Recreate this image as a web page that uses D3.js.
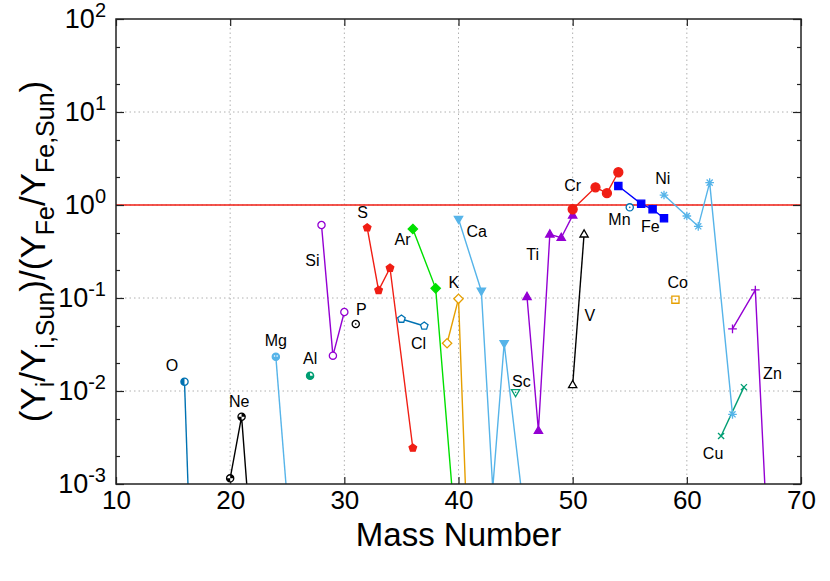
<!DOCTYPE html>
<html>
<head>
<meta charset="utf-8">
<script src="https://cdn.jsdelivr.net/npm/d3@7"></script>
<style>
  body { margin: 0; background: #fff; }
  svg { display: block; font-family: "Liberation Sans", Arial, Helvetica, sans-serif; }
</style>
</head>
<body>
<div id="chart"></div>
<script>
// isotope ratios per element: [mass number, (Yi/Yi,sun)/(YFe/YFe,sun)]
var O  = [[16, 0.0126], [17, 3e-6]];
var Ne = [[20, 0.00115], [21, 0.0053], [22, 1.3e-4]];
var Mg = [[24, 0.0234], [25, 6.7e-4]];
var Al = [[27, 0.0146]];
var Si = [[28, 0.61], [29, 0.024], [30, 0.0707]];
var P  = [[31, 0.0525]];
var S  = [[32, 0.57], [33, 0.121], [34, 0.21], [36, 0.00244]];
var Cl = [[35, 0.0594], [37, 0.050]];
var Ar = [[36, 0.552], [38, 0.127], [40, 1.25e-4]];
var K  = [[39, 0.0326], [40, 0.098], [41, 4.7e-5]];
var Ca = [[40, 0.706], [42, 0.119], [43, 9e-4], [44, 0.0326], [46, 2.6e-4]];
var Sc = [[45, 0.0097]];
var Ti = [[46, 0.103], [47, 0.00374], [48, 0.484], [49, 0.445], [50, 0.774]];
var V  = [[50, 0.0116], [51, 0.484]];
var Cr = [[50, 0.90], [52, 1.55], [53, 1.34], [54, 2.25]];
var Mn = [[55, 0.944]];
var Fe = [[54, 1.6], [56, 1.03], [57, 0.90], [58, 0.72]];
var Co = [[59, 0.096]];
var Ni = [[58, 1.28], [60, 0.762], [61, 0.59], [62, 1.74], [64, 0.00561]];
var Cu = [[63, 0.00328], [65, 0.011]];
var Zn = [[64, 0.0465], [66, 0.122], [67, 3.7e-4]];

var elements = ["O", "Ne", "Mg", "Al", "Si", "P", "S", "Cl", "Ar", "K", "Ca",
                "Sc", "Ti", "V", "Cr", "Mn", "Fe", "Co", "Ni", "Cu", "Zn"];
var seriesData = {O: O, Ne: Ne, Mg: Mg, Al: Al, Si: Si, P: P, S: S, Cl: Cl, Ar: Ar, K: K, Ca: Ca,
                  Sc: Sc, Ti: Ti, V: V, Cr: Cr, Mn: Mn, Fe: Fe, Co: Co, Ni: Ni, Cu: Cu, Zn: Zn};

var xTicks = [10, 20, 30, 40, 50, 60, 70];
var yTicks = [1e-3, 1e-2, 1e-1, 1, 10, 100];
var yExps = [-3, -2, -1, 0, 1, 2];
var yMinor = [2e-3, 5e-3, 2e-2, 5e-2, 0.2, 0.5, 2, 5, 20, 50];
var refLevel = 1;

// label anchors in data units
var labelAt = {
  O: [14.9, 0.0186], Ne: [20.8, 0.00762], Mg: [24.0, 0.0353], Al: [27.0, 0.0221],
  Si: [27.2, 0.25], P: [31.5, 0.0743], S: [31.6, 0.84], Cl: [36.5, 0.0328],
  Ar: [35.1, 0.43], K: [39.6, 0.145], Ca: [41.6, 0.513], Sc: [45.5, 0.0128],
  Ti: [46.5, 0.29], V: [51.5, 0.0656], Cr: [50.0, 1.64], Mn: [54.1, 0.706],
  Fe: [56.8, 0.594], Ni: [57.9, 1.905], Co: [59.2, 0.145], Cu: [62.3, 0.00215],
  Zn: [67.5, 0.0156]
};

var purple = "#9400d3", green = "#009e73", sky = "#56b4e9", orange = "#e69f00",
    blue = "#0072b2", red = "#f01e14";
var styles = {
  O:  {color: blue,   shape: "circle",   fill: "half"},
  Ne: {color: "#000", shape: "circle",   fill: "quad"},
  Mg: {color: sky,    shape: "circle",   fill: "dots"},
  Al: {color: green,  shape: "circle",   fill: "threeq"},
  Si: {color: purple, shape: "circle",   fill: "open"},
  P:  {color: "#000", shape: "circle",   fill: "dot"},
  S:  {color: red,    shape: "pentagon", fill: "solid"},
  Cl: {color: blue,   shape: "pentagon", fill: "open"},
  Ar: {color: "#00e000", shape: "diamond", fill: "solid"},
  K:  {color: orange, shape: "diamond",  fill: "open"},
  Ca: {color: sky,    shape: "triDown",  fill: "solid"},
  Sc: {color: green,  shape: "triDown",  fill: "dot"},
  Ti: {color: purple, shape: "triUp",    fill: "solid"},
  V:  {color: "#000", shape: "triUp",    fill: "open"},
  Cr: {color: red,    shape: "circle",   fill: "solidBig"},
  Mn: {color: blue,   shape: "circle",   fill: "dot"},
  Fe: {color: "#0000ff", shape: "square", fill: "solid"},
  Co: {color: orange, shape: "square",   fill: "dot"},
  Ni: {color: sky,    shape: "asterisk", fill: "open"},
  Cu: {color: green,  shape: "cross",    fill: "open"},
  Zn: {color: purple, shape: "plus",     fill: "open"}
};

var W = 830, H = 581;
var margin = {top: 19, right: 29, bottom: 97, left: 116};
var width = W - margin.left - margin.right,
    height = H - margin.top - margin.bottom;

var svg = d3.select("#chart").append("svg")
    .attr("width", W)
    .attr("height", H);

var x = d3.scaleLinear().domain([10, 70]).range([margin.left, margin.left + width]);
var y = d3.scaleLog().domain([1e-3, 1e2]).range([margin.top + height, margin.top]);

svg.append("defs").append("clipPath").attr("id", "plotclip")
  .append("rect")
    .attr("x", margin.left).attr("y", margin.top)
    .attr("width", width).attr("height", height);

// grid
var grid = svg.append("g").attr("stroke", "#b0b0b0").attr("stroke-width", 1)
    .attr("stroke-dasharray", "1.5,3");
grid.selectAll(".gx").data(xTicks.slice(1, -1)).enter().append("line")
    .attr("x1", function(d) { return x(d); }).attr("x2", function(d) { return x(d); })
    .attr("y1", margin.top).attr("y2", margin.top + height);
grid.selectAll(".gy").data(yTicks.slice(1, -1)).enter().append("line")
    .attr("y1", function(d) { return y(d); }).attr("y2", function(d) { return y(d); })
    .attr("x1", margin.left).attr("x2", margin.left + width);

// reference line
svg.append("line")
    .attr("x1", margin.left).attr("x2", margin.left + width)
    .attr("y1", y(refLevel)).attr("y2", y(refLevel))
    .attr("stroke", red).attr("stroke-width", 1.3);

// axes (ticks pointing inward)
function styleAxis(g) {
  g.select(".domain").remove();
  g.selectAll("line").attr("stroke", "#222").attr("stroke-width", 1.2);
}
svg.append("g").attr("transform", "translate(0," + (margin.top + height) + ")")
    .call(d3.axisBottom(x).tickValues(xTicks).tickSizeInner(-7).tickSizeOuter(0).tickPadding(7))
    .call(styleAxis)
    .selectAll("text").attr("font-size", 26).attr("fill", "#000");
svg.append("g").attr("transform", "translate(0," + margin.top + ")")
    .call(d3.axisTop(x).tickValues(xTicks).tickSizeInner(-7).tickSizeOuter(0).tickFormat(""))
    .call(styleAxis);

var yLeft = svg.append("g").attr("transform", "translate(" + margin.left + ",0)")
    .call(d3.axisLeft(y).tickValues(yTicks).tickSizeInner(-8).tickSizeOuter(0).tickPadding(10))
    .call(styleAxis);
yLeft.selectAll("text").each(function(d, i) {
  var t = d3.select(this).text(null).attr("font-size", 27).attr("fill", "#000");
  t.append("tspan").text("10");
  t.append("tspan").attr("font-size", 20).attr("dy", "-0.55em").text(yExps[i]);
});
svg.append("g").attr("transform", "translate(" + margin.left + ",0)")
    .call(d3.axisLeft(y).tickValues(yMinor).tickSizeInner(-4).tickSizeOuter(0).tickFormat(""))
    .call(styleAxis);
svg.append("g").attr("transform", "translate(" + (margin.left + width) + ",0)")
    .call(d3.axisRight(y).tickValues(yTicks).tickSizeInner(-8).tickSizeOuter(0).tickFormat(""))
    .call(styleAxis);
svg.append("g").attr("transform", "translate(" + (margin.left + width) + ",0)")
    .call(d3.axisRight(y).tickValues(yMinor).tickSizeInner(-4).tickSizeOuter(0).tickFormat(""))
    .call(styleAxis);

// series lines
var line = d3.line()
    .x(function(d) { return x(d[0]); })
    .y(function(d) { return y(d[1]); });

var plot = svg.append("g").attr("clip-path", "url(#plotclip)");

elements.forEach(function(el) {
  var data = seriesData[el];
  if (data.length > 1) {
    plot.append("path")
        .datum(data)
        .attr("d", line)
        .attr("fill", "none")
        .attr("stroke", styles[el].color)
        .attr("stroke-width", 1.4);
  }
});

// markers
var r = 3.6;
function polygon(pts) {
  return "M" + pts.map(function(p) { return p[0].toFixed(2) + "," + p[1].toFixed(2); }).join("L") + "Z";
}
function shapePath(shape) {
  var k, pts = [];
  if (shape === "pentagon") {
    for (k = 0; k < 5; k++) {
      var a = -Math.PI / 2 + k * 2 * Math.PI / 5;
      pts.push([r * 1.1 * Math.cos(a), r * 1.1 * Math.sin(a)]);
    }
    return polygon(pts);
  }
  if (shape === "diamond") return polygon([[0, -r * 1.3], [r * 1.3, 0], [0, r * 1.3], [-r * 1.3, 0]]);
  if (shape === "triUp") return polygon([[0, -r * 1.25], [r * 1.15, r * 0.75], [-r * 1.15, r * 0.75]]);
  if (shape === "triDown") return polygon([[0, r * 1.25], [r * 1.15, -r * 0.75], [-r * 1.15, -r * 0.75]]);
  if (shape === "square") return polygon([[-r, -r], [r, -r], [r, r], [-r, r]]);
  var s = r * 1.2, c = s * 0.7071;
  if (shape === "plus") return "M" + -s + ",0H" + s + "M0," + -s + "V" + s;
  if (shape === "cross") return "M" + -c + "," + -c + "L" + c + "," + c + "M" + -c + "," + c + "L" + c + "," + -c;
  if (shape === "asterisk") return "M" + -s + ",0H" + s + "M0," + -s + "V" + s +
      "M" + -c + "," + -c + "L" + c + "," + c + "M" + -c + "," + c + "L" + c + "," + -c;
  return null;
}

function drawMarker(g, st) {
  var col = st.color;
  if (st.shape === "circle") {
    var rr = st.fill === "solidBig" ? r * 1.25 : r;
    var filled = st.fill === "solidBig" || st.fill === "dots" || st.fill === "threeq";
    g.append("circle").attr("r", rr)
        .attr("fill", filled ? col : "#fff")
        .attr("stroke", col).attr("stroke-width", 1.3);
    if (st.fill === "half") {
      g.append("path").attr("d", d3.arc()({innerRadius: 0, outerRadius: rr, startAngle: Math.PI, endAngle: 2 * Math.PI}))
          .attr("fill", col);
    }
    if (st.fill === "quad") {
      g.append("path").attr("d", d3.arc()({innerRadius: 0, outerRadius: rr, startAngle: 0, endAngle: Math.PI / 2}))
          .attr("fill", col);
      g.append("path").attr("d", d3.arc()({innerRadius: 0, outerRadius: rr, startAngle: Math.PI, endAngle: 1.5 * Math.PI}))
          .attr("fill", col);
    }
    if (st.fill === "threeq") {
      g.append("path").attr("d", d3.arc()({innerRadius: 0, outerRadius: rr - 1, startAngle: 0, endAngle: Math.PI / 2}))
          .attr("fill", "#fff");
    }
    if (st.fill === "dots") {
      g.append("circle").attr("cx", -1.3).attr("cy", -0.6).attr("r", 0.8).attr("fill", "#fff");
      g.append("circle").attr("cx", 1.3).attr("cy", -0.6).attr("r", 0.8).attr("fill", "#fff");
    }
    if (st.fill === "dot") {
      g.append("circle").attr("r", 0.8).attr("fill", col);
    }
    return;
  }
  var d = shapePath(st.shape);
  var line = st.shape === "plus" || st.shape === "cross" || st.shape === "asterisk";
  g.append("path").attr("d", d)
      .attr("fill", line ? "none" : (st.fill === "solid" ? col : "#fff"))
      .attr("stroke", col).attr("stroke-width", 1.3);
  if (st.fill === "dot") {
    g.append("circle").attr("r", 0.8).attr("fill", col);
  }
}

elements.forEach(function(el) {
  var data = seriesData[el].filter(function(d) { return d[1] >= 1e-3 && d[1] <= 1e2; });
  plot.selectAll(".m-" + el).data(data).enter().append("g")
      .attr("class", "m-" + el)
      .attr("transform", function(d) { return "translate(" + x(d[0]) + "," + y(d[1]) + ")"; })
      .each(function() { drawMarker(d3.select(this), styles[el]); });
});

// element labels
svg.append("g").selectAll("text").data(elements).enter().append("text")
    .attr("x", function(el) { return x(labelAt[el][0]); })
    .attr("y", function(el) { return y(labelAt[el][1]); })
    .attr("text-anchor", "middle")
    .attr("dominant-baseline", "central")
    .attr("font-size", 16)
    .attr("fill", "#000")
    .text(function(el) { return el; });

// border
svg.append("rect")
    .attr("x", margin.left).attr("y", margin.top)
    .attr("width", width).attr("height", height)
    .attr("fill", "none").attr("stroke", "#222").attr("stroke-width", 1.5);

// axis titles
svg.append("text")
    .attr("x", margin.left + width / 2)
    .attr("y", 546)
    .attr("text-anchor", "middle")
    .attr("font-size", 33)
    .attr("fill", "#000")
    .text("Mass Number");

var yt = svg.append("text")
    .attr("transform", "translate(45," + (margin.top + height / 2) + ") rotate(-90)")
    .attr("text-anchor", "middle")
    .attr("font-size", 35)
    .attr("fill", "#000");
[["(Y", null], ["i", "sub"], ["/Y", "up"], ["i,Sun", "sub"], [")/(Y", "up"], ["Fe", "sub"],
 ["/Y", "up"], ["Fe,Sun", "sub"], [")", "up"]].forEach(function(p) {
  var ts = yt.append("tspan").text(p[0]);
  if (p[1] === "sub") ts.attr("font-size", 25).attr("dy", 9);
  if (p[1] === "up") ts.attr("dy", -9);
});
</script>
</body>
</html>
